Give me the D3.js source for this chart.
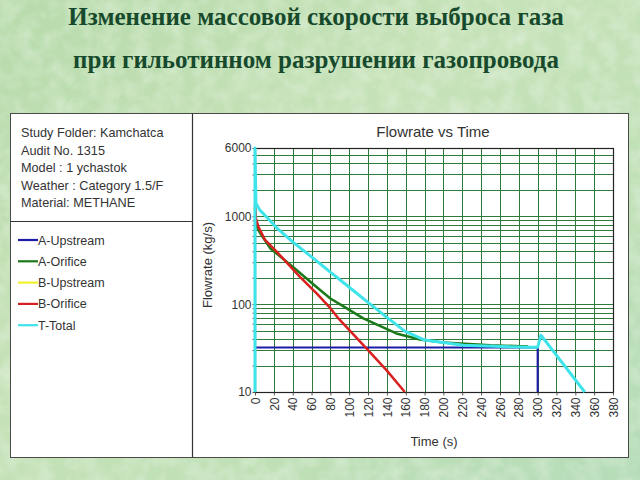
<!DOCTYPE html>
<html><head><meta charset="utf-8">
<script src="https://cdn.jsdelivr.net/npm/d3@7"></script>
<style>body{margin:0;padding:0;overflow:hidden}svg{display:block}</style>
</head><body>
<script>
// ---- data ----
const titleLines = ["Изменение массовой скорости выброса газа", "при гильотинном разрушении газопровода"];
const infoLines = ["Study Folder: Kamchatca", "Audit No. 1315", "Model : 1 ychastok", "Weather : Category 1.5/F", "Material: METHANE"];
const seriesNames = ["A-Upstream", "A-Orifice", "B-Upstream", "B-Orifice", "T-Total"];
const seriesColors = ["#1c1ca8", "#1a7a1a", "#f2f22a", "#d82020", "#3ee4ea"];
const xTicks = d3.range(0, 381, 20);
const yLabelTicks = [10, 100, 1000, 6000];
const aUpstream = [[0, 32.1], [300, 32.1], [300, 10]];
const aOrifice = [[0, 1250], [1, 850], [3, 720], [5.3, 650], [16, 434], [40, 267], [65, 158], [80, 116], [97, 90], [115, 69], [150, 46.4], [175, 39.6], [200, 36.5], [250, 34], [290, 33]];
const bUpstream = [];
const bOrifice = [[0, 1300], [1, 950], [3.5, 765], [10.6, 540], [23, 396], [47.7, 205], [65.4, 133], [80, 90], [88, 70], [120, 30], [140, 17.5], [159, 10]];
const tTotal = [[0, 10], [0, 6000], [1, 1410], [5, 1185], [23, 740], [40, 512], [60, 345], [80, 232], [100, 156], [120, 105], [140, 70.7], [159, 49.3], [180, 39], [221, 34], [292, 32.3], [300, 32.3], [303.5, 44.4], [350, 10]];
const allSeries = [aUpstream, aOrifice, bUpstream, bOrifice, tTotal];
const seriesWidths = [2, 2.5, 2, 2.5, 3];

const W = 640, H = 480;
const svg = d3.select("body").append("svg").attr("width", W).attr("height", H);
const defs = svg.append("defs");
const grad = defs.append("linearGradient").attr("id", "bg").attr("x1", 0).attr("y1", 0).attr("x2", 1).attr("y2", 1);
grad.append("stop").attr("offset", 0).attr("stop-color", "#b6dbab");
grad.append("stop").attr("offset", 0.4).attr("stop-color", "#c6e2b8");
grad.append("stop").attr("offset", 0.7).attr("stop-color", "#bfe0b6");
grad.append("stop").attr("offset", 1).attr("stop-color", "#b5dcb8");
const filt = defs.append("filter").attr("id", "tex").attr("x", 0).attr("y", 0).attr("width", 1).attr("height", 1);
filt.append("feTurbulence").attr("type", "fractalNoise").attr("baseFrequency", 0.06).attr("numOctaves", 3).attr("seed", 4).attr("result", "n");
filt.append("feColorMatrix").attr("in", "n").attr("type", "matrix")
  .attr("values", "0 0 0 0 1  0 0 0 0 1  0 0 0 0 1  0 0 0 -1.6 1.05").attr("result", "m");
filt.append("feComposite").attr("in", "m").attr("in2", "SourceGraphic").attr("operator", "in");

svg.append("rect").attr("width", W).attr("height", H).attr("fill", "url(#bg)");
svg.append("rect").attr("width", W).attr("height", H).attr("fill", "#ffffff").attr("opacity", 0.35).attr("filter", "url(#tex)");

// title
svg.selectAll("text.title").data(titleLines).join("text").attr("class", "title")
  .attr("x", 316).attr("y", (d, i) => 25 + i * 43)
  .attr("text-anchor", "middle")
  .attr("font-family", "'Liberation Serif', 'Times New Roman', serif")
  .attr("font-weight", "bold").attr("font-size", 25).attr("fill", "#174a2c")
  .text(d => d);

// panel
svg.append("rect").attr("x", 10.5).attr("y", 113.5).attr("width", 618).attr("height", 344)
  .attr("fill", "#ffffff").attr("stroke", "#4a4a4a").attr("stroke-width", 1);
svg.append("line").attr("x1", 192.5).attr("x2", 192.5).attr("y1", 113.5).attr("y2", 457.5).attr("stroke", "#333").attr("stroke-width", 1.2);
svg.append("line").attr("x1", 10.5).attr("x2", 192.5).attr("y1", 221.5).attr("y2", 221.5).attr("stroke", "#333").attr("stroke-width", 1.2);

const txtFont = "Arial, 'Liberation Sans', sans-serif";
svg.selectAll("text.info").data(infoLines).join("text").attr("class", "info")
  .attr("x", 21).attr("y", (d, i) => 137 + i * 17.6)
  .attr("font-family", txtFont).attr("font-size", 12.7).attr("fill", "#333")
  .text(d => d);

// legend
const leg = svg.selectAll("g.leg").data(seriesNames).join("g").attr("class", "leg")
  .attr("transform", (d, i) => `translate(0,${240 + i * 21.3})`);
leg.append("line").attr("x1", 18).attr("x2", 38).attr("y1", 0).attr("y2", 0)
  .attr("stroke", (d, i) => seriesColors[i]).attr("stroke-width", 2.2);
leg.append("text").attr("x", 38).attr("y", 4.5)
  .attr("font-family", txtFont).attr("font-size", 12.5).attr("fill", "#333").text(d => d);

// chart
const x = d3.scaleLinear().domain([0, 380]).range([255, 613]);
const y = d3.scaleLog().domain([10, 6000]).range([392, 148]);
const gridY = [];
[10, 100, 1000].forEach(dec => { for (let k = 1; k <= 9; k++) { const v = dec * k; if (v <= 6000) gridY.push(v); } });

const gridColor = "#2f7a3a";
svg.append("g").selectAll("line").data(xTicks).join("line")
  .attr("x1", d => Math.round(x(d)) + 0.5).attr("x2", d => Math.round(x(d)) + 0.5)
  .attr("y1", y(6000)).attr("y2", y(10)).attr("stroke", gridColor).attr("stroke-width", 1);
svg.append("g").selectAll("line").data(gridY).join("line")
  .attr("x1", x(0)).attr("x2", x(380))
  .attr("y1", d => Math.round(y(d)) + 0.5).attr("y2", d => Math.round(y(d)) + 0.5)
  .attr("stroke", gridColor).attr("stroke-width", 1);
svg.append("rect").attr("x", Math.round(x(0)) + 0.5).attr("y", Math.round(y(6000)) + 0.5)
  .attr("width", Math.round(x(380)) - Math.round(x(0))).attr("height", Math.round(y(10)) - Math.round(y(6000)))
  .attr("fill", "none").attr("stroke", "#222").attr("stroke-width", 1.2);

// axes
const yAxis = d3.axisLeft(y).tickValues(gridY).tickSize(3)
  .tickFormat(d => yLabelTicks.includes(d) ? String(d) : "");
svg.append("g").attr("transform", `translate(${Math.round(x(0)) + 0.5},0)`).call(yAxis)
  .call(g => g.select(".domain").remove())
  .call(g => g.selectAll("line").attr("stroke", "#555"))
  .call(g => g.selectAll("text").attr("font-family", txtFont).attr("font-size", 12).attr("fill", "#333").attr("x", -4));
const xAxis = d3.axisBottom(x).tickValues(xTicks).tickSize(3).tickFormat(d => String(d));
svg.append("g").attr("transform", `translate(0,${Math.round(y(10)) + 0.5})`).call(xAxis)
  .call(g => g.select(".domain").remove())
  .call(g => g.selectAll("line").attr("stroke", "#555"))
  .call(g => g.selectAll("text").attr("font-family", txtFont).attr("font-size", 12).attr("fill", "#333")
    .attr("transform", "rotate(-90)").attr("text-anchor", "end").attr("x", -5).attr("y", 0).attr("dy", "0.35em"));

svg.append("text").attr("x", 433).attr("y", 137).attr("text-anchor", "middle")
  .attr("font-family", txtFont).attr("font-size", 15).attr("fill", "#333").text("Flowrate vs Time");
svg.append("text").attr("transform", "translate(212,265) rotate(-90)").attr("text-anchor", "middle")
  .attr("font-family", txtFont).attr("font-size", 13).attr("fill", "#333").text("Flowrate (kg/s)");
svg.append("text").attr("x", 434).attr("y", 446).attr("text-anchor", "middle")
  .attr("font-family", txtFont).attr("font-size", 13).attr("fill", "#333").text("Time (s)");

// series
const line = d3.line().x(d => x(d[0])).y(d => y(d[1]));
allSeries.forEach((s, i) => {
  if (!s.length) return;
  svg.append("path").datum(s).attr("d", line).attr("fill", "none")
    .attr("stroke", seriesColors[i]).attr("stroke-width", seriesWidths[i])
    .attr("stroke-linejoin", "round");
});
</script>
</body></html>
